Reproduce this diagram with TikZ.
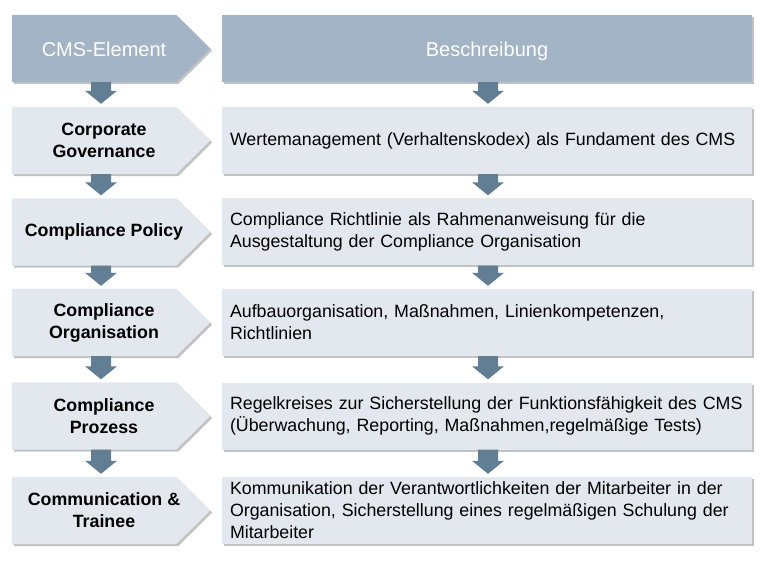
\documentclass[tikz,border=0pt]{standalone}
\usepackage{fontspec}
\setmainfont{Liberation Sans}
\usetikzlibrary{shadows,backgrounds,calc}
\definecolor{headfill}{HTML}{A2B4C5}
\definecolor{rowfill}{HTML}{E3E8EE}
\definecolor{arrowc}{HTML}{617E94}
\definecolor{shadowc}{HTML}{9A9A9A}
\newcommand\blockarr[3]{%
  \fill[arrowc] let \p1=([xshift=#3]#1.south), \p2=(#2.north) in
    (\x1-10pt,\y1) -- (\x1+10pt,\y1) -- (\x1+10pt,\y2+16pt) -- (\x1+16pt,\y2+16pt)
    -- (\x1,\y2+3pt) -- (\x1-16pt,\y2+16pt) -- (\x1-10pt,\y2+16pt) -- cycle;}
\tikzset{
  shad/.style={drop shadow={shadow xshift=2pt,shadow yshift=-2pt,fill=shadowc,opacity=0.6}},
  lbody/.style={minimum width=184pt,minimum height=67pt,inner sep=0pt,align=center,
    font=\fontsize{17.8}{22}\selectfont\bfseries},
  lhead/.style={lbody,font=\fontsize{20}{24}\selectfont,text=white,text height=19pt,text depth=2pt},
  rbox/.style={rectangle,fill=rowfill,shad,text width=514pt,inner xsep=8pt,inner ysep=0pt,
    minimum height=67pt,align=left,font=\fontsize{17.8}{22}\selectfont},
  rhead/.style={rbox,fill=headfill,align=center,text=white,font=\fontsize{20}{24}\selectfont,
    text height=19pt,text depth=2pt},
}
\begin{document}
\begin{tikzpicture}[x=1pt,y=1pt]
\useasboundingbox (0,0) rectangle (768,-561);
% left column
\node[lhead] (l0) at (104,-48.5) {CMS-Element};
\node[lbody] (l1) at (104,-140.5) {Corporate\\Governance};
\node[lbody] (l2) at (104,-232) {Compliance Policy};
\node[lbody] (l3) at (104,-322.5) {Compliance\\Organisation};
\node[lbody] (l4) at (104,-416) {Compliance\\Prozess};
\node[lbody] (l5) at (104,-510.5) {Communication \&\\Trainee};
% right column
\node[rhead] (r0) at (487,-48.5) {Beschreibung};
\node[rbox] (r1) at (487,-140.5) {Wertemanagement (Verhaltenskodex) als Fundament des CMS};
\node[rbox] (r2) at (487,-232) {Compliance Richtlinie als Rahmenanweisung für die\\Ausgestaltung der Compliance Organisation};
\node[rbox] (r3) at (487,-322.5) {Aufbauorganisation, Maßnahmen, Linienkompetenzen,\\Richtlinien};
\node[rbox] (r4) at (487,-416) {Regelkreises zur Sicherstellung der Funktionsfähigkeit des CMS\\(Überwachung, Reporting, Maßnahmen,regelmäßige Tests)};
\node[rbox] (r5) at (487,-510.5) {Kommunikation der Verantwortlichkeiten der Mitarbeiter in der\\Organisation, Sicherstellung eines regelmäßigen Schulung der\\Mitarbeiter};
\begin{scope}[on background layer]
  \fill[headfill,shad] (l0.north west) -- ([xshift=-20pt]l0.north east) -- ([xshift=14pt]l0.east)
    -- ([xshift=-20pt]l0.south east) -- (l0.south west) -- cycle;
  \foreach \n in {l1,l2,l3,l4,l5}{
    \fill[rowfill,shad] (\n.north west) -- ([xshift=-20pt]\n.north east) -- ([xshift=14pt]\n.east)
      -- ([xshift=-20pt]\n.south east) -- (\n.south west) -- cycle;}
\end{scope}
% arrows
\blockarr{l0}{l1}{-3pt}
\blockarr{l1}{l2}{-3pt}
\blockarr{l2}{l3}{-3pt}
\blockarr{l3}{l4}{-3pt}
\blockarr{l4}{l5}{-3pt}
\blockarr{r0}{r1}{1pt}
\blockarr{r1}{r2}{1pt}
\blockarr{r2}{r3}{1pt}
\blockarr{r3}{r4}{1pt}
\blockarr{r4}{r5}{1pt}
\end{tikzpicture}
\end{document}
